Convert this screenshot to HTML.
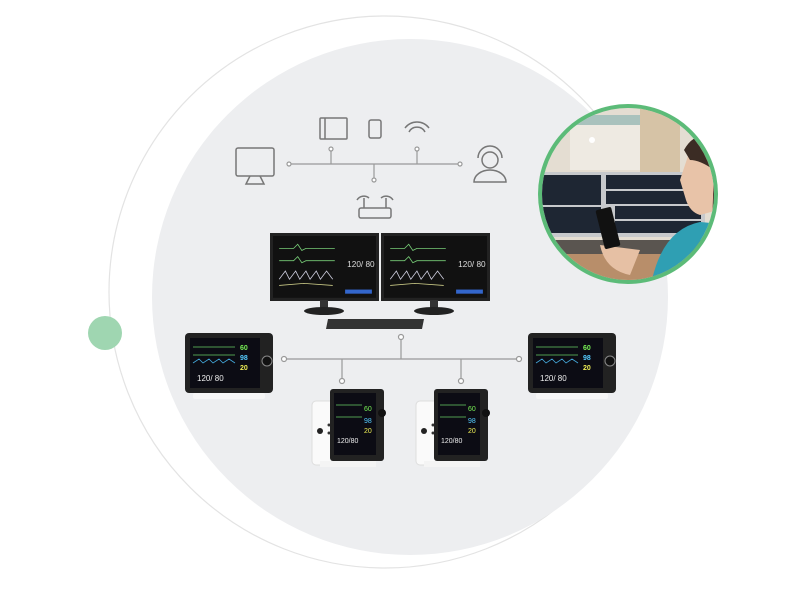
<!DOCTYPE html>
<html><head><style>body{margin:0;background:#fff}svg{display:block}</style></head><body>
<svg width="800" height="600" viewBox="0 0 800 600" xmlns="http://www.w3.org/2000/svg" font-family="Liberation Sans, sans-serif">
<defs>
<clipPath id="pc"><circle cx="628" cy="194" r="86"/></clipPath>
<g id="scr">
<rect width="100" height="60" fill="#111"/>
<polyline points="6,12 20,12 24,8 28,14 32,12 60,12" stroke="#7c7" fill="none" stroke-width="0.8"/>
<polyline points="6,24 20,24 24,20 28,26 32,24 60,24" stroke="#7c7" fill="none" stroke-width="0.8"/>
<polyline points="6,42 12,34 16,42 22,34 26,42 32,34 36,42 42,34 46,42 52,34 58,42" stroke="#ccd" fill="none" stroke-width="0.8"/>
<polyline points="6,48 30,46 58,48" stroke="#cc8" fill="none" stroke-width="0.8"/>
<text x="72" y="30" font-size="8" fill="#ddd">120/ 80</text>
<rect x="70" y="52" width="26" height="4" fill="#36c"/>
</g>
<g id="bed">
<rect width="88" height="60" rx="4" fill="#222"/>
<rect x="5" y="5" width="70" height="50" fill="#0c0c14"/>
<polyline points="8,14 50,14" stroke="#6c6" stroke-width="0.8"/>
<polyline points="8,22 50,22" stroke="#6c6" stroke-width="0.8"/>
<polyline points="8,30 14,26 18,30 24,26 28,30 34,26 38,30 44,26 50,30" stroke="#4ad" fill="none" stroke-width="0.8"/>
<text x="55" y="17" font-size="7" fill="#7e5" font-weight="bold">60</text>
<text x="55" y="27" font-size="7" fill="#5cf" font-weight="bold">98</text>
<text x="55" y="37" font-size="7" fill="#ee5" font-weight="bold">20</text>
<text x="12" y="48" font-size="8" fill="#eee">120/ 80</text>
<circle cx="82" cy="28" r="5" fill="#111" stroke="#888"/>
<rect x="8" y="60" width="72" height="6" rx="2" fill="#f6f6f6"/>
</g>
<g id="port">
<rect x="0" y="12" width="26" height="64" rx="4" fill="#fafafa" stroke="#ddd"/>
<circle cx="8" cy="42" r="3" fill="#222"/><circle cx="17" cy="36" r="1.5" fill="#333"/><circle cx="17" cy="44" r="1.5" fill="#333"/>
<rect x="18" y="0" width="54" height="72" rx="3" fill="#222"/>
<rect x="22" y="4" width="42" height="62" fill="#0c0c14"/>
<polyline points="24,16 50,16" stroke="#6c6" stroke-width="0.8"/>
<polyline points="24,28 50,28" stroke="#6c6" stroke-width="0.8"/>
<text x="52" y="22" font-size="7" fill="#7e5">60</text>
<text x="52" y="34" font-size="7" fill="#5cf">98</text>
<text x="52" y="44" font-size="7" fill="#ee5">20</text>
<text x="25" y="54" font-size="7" fill="#eee">120/80</text>
<circle cx="70" cy="24" r="4" fill="#111"/>
<rect x="8" y="72" width="56" height="6" fill="#f4f4f4"/>
</g>
</defs>
<circle cx="385" cy="292" r="276" fill="none" stroke="#e3e3e3" stroke-width="1.2"/>
<circle cx="410" cy="297" r="258" fill="#edeef0"/>
<circle cx="105" cy="333" r="17" fill="#9fd6b1"/>
<g stroke="#999" stroke-width="1.2" fill="#fff">
<line x1="289" y1="164" x2="460" y2="164"/><line x1="331" y1="149" x2="331" y2="164"/><line x1="417" y1="149" x2="417" y2="164"/><line x1="374" y1="164" x2="374" y2="180"/>
<circle cx="289" cy="164" r="2"/><circle cx="460" cy="164" r="2"/><circle cx="331" cy="149" r="2"/><circle cx="417" cy="149" r="2"/><circle cx="374" cy="180" r="2"/>
<line x1="284" y1="359" x2="519" y2="359"/><line x1="401" y1="339" x2="401" y2="359"/><line x1="342" y1="359" x2="342" y2="380"/><line x1="461" y1="359" x2="461" y2="380"/>
<circle cx="284" cy="359" r="2.5"/><circle cx="519" cy="359" r="2.5"/><circle cx="401" cy="337" r="2.5"/><circle cx="342" cy="381" r="2.5"/><circle cx="461" cy="381" r="2.5"/>
</g>
<g stroke="#777" stroke-width="1.5" fill="none">
<rect x="236" y="148" width="38" height="28" rx="2"/><path d="M250 176 L246 184 H264 L260 176"/>
<rect x="320" y="118" width="27" height="21" rx="1"/><line x1="325" y1="118" x2="325" y2="139"/>
<rect x="369" y="120" width="12" height="18" rx="2"/>
<path d="M405 128 A15 15 0 0 1 429 128 M409 132 A9 9 0 0 1 425 132"/>
<circle cx="490" cy="160" r="8"/><path d="M474 182 A16 12 0 0 1 506 182 Z"/><path d="M478 158 A12 12 0 0 1 502 158"/>
<rect x="359" y="208" width="32" height="10" rx="2"/><line x1="364" y1="208" x2="364" y2="198"/><line x1="386" y1="208" x2="386" y2="198"/>
<path d="M357 200 A8 8 0 0 1 369 198 M381 198 A8 8 0 0 1 393 200"/>
</g>
<rect x="270" y="233" width="109" height="68" fill="#222"/><use href="#scr" transform="translate(273,236) scale(1.03,1.03)"/>
<rect x="381" y="233" width="109" height="68" fill="#222"/><use href="#scr" transform="translate(384,236) scale(1.03,1.03)"/>
<rect x="320" y="300" width="8" height="8" fill="#333"/><ellipse cx="324" cy="311" rx="20" ry="4" fill="#222"/>
<rect x="430" y="300" width="8" height="8" fill="#333"/><ellipse cx="434" cy="311" rx="20" ry="4" fill="#222"/>
<path d="M328 319 H424 L422 329 H326 Z" fill="#333"/>
<use href="#bed" transform="translate(185,333)"/>
<use href="#bed" transform="translate(528,333)"/>
<use href="#port" transform="translate(312,389)"/>
<use href="#port" transform="translate(416,389)"/>
<circle cx="628" cy="194" r="90" fill="#5cbb78"/>
<g clip-path="url(#pc)">
<rect x="530" y="100" width="200" height="190" fill="#e4ddd2"/>
<rect x="560" y="115" width="80" height="10" fill="#a9c2bd"/>
<rect x="570" y="125" width="70" height="45" fill="#eeeae2"/>
<rect x="640" y="105" width="40" height="70" fill="#d6c3a6"/>
<circle cx="592" cy="140" r="3" fill="#fff"/>
<rect x="535" y="172" width="170" height="65" fill="#c7c9cc"/>
<rect x="537" y="175" width="64" height="30" fill="#1e2633"/>
<rect x="537" y="207" width="64" height="26" fill="#1e2633"/>
<rect x="606" y="175" width="95" height="14" fill="#1e2633"/>
<rect x="606" y="191" width="95" height="13" fill="#1e2633"/>
<rect x="615" y="206" width="86" height="13" fill="#1e2633"/>
<rect x="615" y="221" width="86" height="12" fill="#1e2633"/>
<rect x="540" y="240" width="170" height="14" fill="#5a5550"/>
<rect x="530" y="254" width="200" height="40" fill="#b88e6a"/>
<path d="M690 150 Q698 138 712 140 L718 210 L700 215 Q690 212 686 200 L680 180 Z" fill="#e8c3a8"/>
<path d="M684 150 Q696 128 722 138 L728 240 L712 226 L714 170 Q700 160 690 160 Z" fill="#3b2c24"/>
<path d="M650 290 Q660 230 700 222 L735 225 L735 290 Z" fill="#2f9fb3"/>
<path d="M600 245 Q605 270 630 275 L640 250 Z" fill="#e6c0a4"/>
<rect x="600" y="208" width="16" height="40" rx="2" fill="#111" transform="rotate(-14 608 228)"/>
</g>
</svg>
</body></html>
